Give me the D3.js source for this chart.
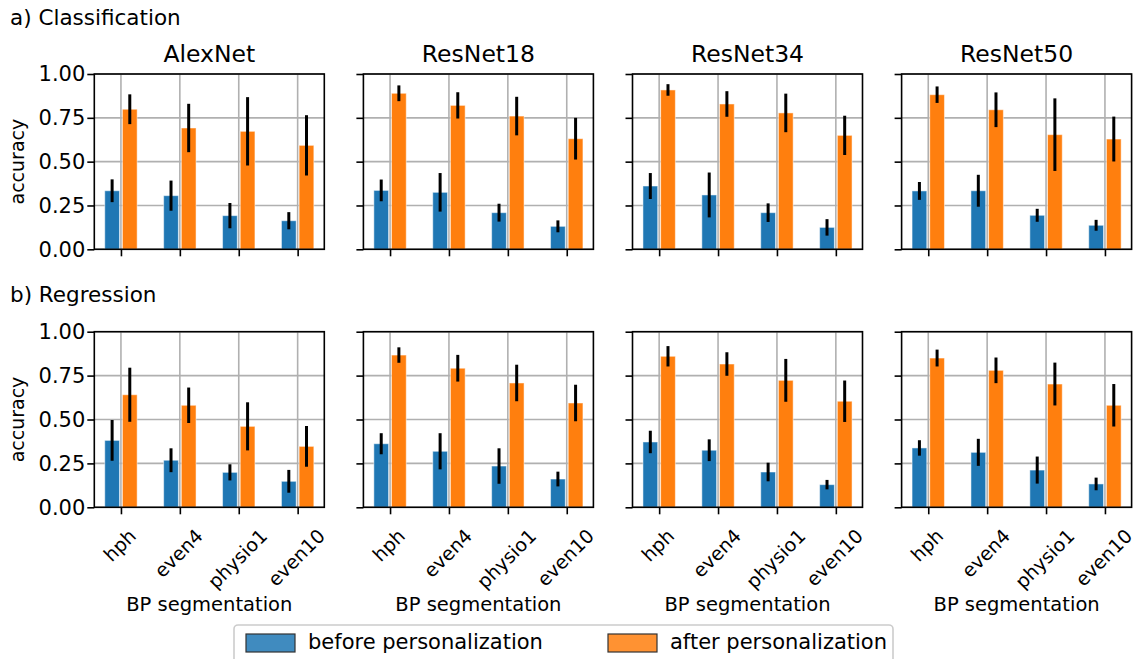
<!DOCTYPE html>
<html>
<head>
<meta charset="utf-8">
<script src="https://cdn.jsdelivr.net/npm/d3@7"></script>
<style>
  body { margin: 0; background: #fff; }
  svg { font-family: "DejaVu Sans", sans-serif; }
</style>
</head>
<body>
<script>
const width = 1137;
const height = 659;

// data
const models = ['AlexNet', 'ResNet18', 'ResNet34', 'ResNet50'];
const segments = ['hph', 'even4', 'physio1', 'even10'];
const yTicks = [0, 0.25, 0.5, 0.75, 1.0];
const seriesNames = ['before personalization', 'after personalization'];

// classification
const clsBefore    = [[0.334, 0.306, 0.192, 0.163], [0.336, 0.325, 0.209, 0.131], [0.361, 0.310, 0.209, 0.125], [0.333, 0.334, 0.194, 0.137]];
const clsBeforeErr = [[0.065, 0.086, 0.072, 0.049], [0.062, 0.110, 0.051, 0.034], [0.074, 0.128, 0.053, 0.047], [0.051, 0.091, 0.037, 0.031]];
const clsAfter     = [[0.799, 0.692, 0.673, 0.593], [0.890, 0.821, 0.760, 0.631], [0.909, 0.829, 0.778, 0.650], [0.882, 0.796, 0.654, 0.629]];
const clsAfterErr  = [[0.085, 0.138, 0.195, 0.172], [0.045, 0.075, 0.110, 0.119], [0.033, 0.073, 0.110, 0.112], [0.047, 0.099, 0.207, 0.128]];

// regression
const regBefore    = [[0.381, 0.268, 0.199, 0.148], [0.362, 0.319, 0.235, 0.161], [0.372, 0.325, 0.201, 0.129], [0.338, 0.313, 0.212, 0.133]];
const regBeforeErr = [[0.116, 0.068, 0.046, 0.065], [0.060, 0.103, 0.101, 0.042], [0.064, 0.062, 0.053, 0.027], [0.044, 0.077, 0.077, 0.036]];
const regAfter     = [[0.641, 0.581, 0.461, 0.347], [0.867, 0.792, 0.708, 0.594], [0.860, 0.816, 0.723, 0.604], [0.850, 0.780, 0.702, 0.581]];
const regAfterErr  = [[0.154, 0.101, 0.137, 0.116], [0.044, 0.076, 0.104, 0.104], [0.058, 0.067, 0.122, 0.118], [0.048, 0.073, 0.122, 0.121]];

const colors = ['#1f77b4', '#ff7f0e'];
const gridColor = '#b0b0b0';

const rows = [
  {label: 'a) Classification', labelY: 25, top: 74, bottom: 249.3, before: clsBefore, beforeErr: clsBeforeErr, after: clsAfter, afterErr: clsAfterErr, titles: true, xlabels: false},
  {label: 'b) Regression', labelY: 302, top: 331.7, bottom: 507.3, before: regBefore, beforeErr: regBeforeErr, after: regAfter, afterErr: regAfterErr, titles: false, xlabels: true}
];

const axLeft0 = 94.3, axStep = 269.1, axWidth = 230;
const barOffset = 0.15, barWidth = 0.25;

var svg = d3.select('body').append('svg')
    .attr('width', width)
    .attr('height', height);

svg.append('rect').attr('width', width).attr('height', height).attr('fill', '#fff');

rows.forEach(row => {
  svg.append('text')
      .text(row.label)
      .attr('x', 10)
      .attr('y', row.labelY)
      .attr('font-size', 21.5);

  const yScale = d3.scaleLinear().domain([0, 1]).range([row.bottom, row.top]);

  models.forEach((model, mi) => {
    const left = axLeft0 + mi * axStep;
    const xScale = d3.scaleLinear().domain([-0.4525, 3.4525]).range([left, left + axWidth]);
    const g = svg.append('g');

    // grid
    g.selectAll('.hgrid').data(yTicks).enter().append('line')
        .attr('x1', left).attr('x2', left + axWidth)
        .attr('y1', d => yScale(d)).attr('y2', d => yScale(d))
        .attr('stroke', gridColor).attr('stroke-width', 1.6);
    g.selectAll('.vgrid').data(segments).enter().append('line')
        .attr('x1', (d, i) => xScale(i)).attr('x2', (d, i) => xScale(i))
        .attr('y1', row.top).attr('y2', row.bottom)
        .attr('stroke', gridColor).attr('stroke-width', 1.6);

    // bars
    const series = [
      {vals: row.before[mi], errs: row.beforeErr[mi], off: -barOffset, color: colors[0]},
      {vals: row.after[mi], errs: row.afterErr[mi], off: barOffset, color: colors[1]}
    ];
    series.forEach(s => {
      const bw = xScale(barWidth) - xScale(0);
      g.selectAll(null).data(s.vals).enter().append('rect')
          .attr('x', (d, i) => xScale(i + s.off) - bw / 2)
          .attr('width', bw)
          .attr('y', d => yScale(d))
          .attr('height', d => yScale(0) - yScale(d))
          .attr('fill', s.color)
          .attr('stroke', '#fff').attr('stroke-opacity', 0.5).attr('stroke-width', 1);
      g.selectAll(null).data(s.vals).enter().append('line')
          .attr('x1', (d, i) => xScale(i + s.off)).attr('x2', (d, i) => xScale(i + s.off))
          .attr('y1', (d, i) => yScale(d + s.errs[i]))
          .attr('y2', (d, i) => yScale(d - s.errs[i]))
          .attr('stroke', '#000').attr('stroke-width', 3);
    });

    // axes
    const yAxis = d3.axisLeft(yScale).tickValues(yTicks).tickSize(7).tickPadding(2)
        .tickFormat(mi === 0 ? d3.format('.2f') : '');
    const ya = g.append('g').attr('transform', `translate(${left},0)`).call(yAxis);
    ya.select('.domain').remove();
    ya.selectAll('line').attr('stroke-width', 1.6);
    ya.selectAll('text').attr('font-size', 21).attr('font-family', '"DejaVu Sans", sans-serif').attr('fill', '#000');

    const xAxis = d3.axisBottom(xScale).tickValues([0, 1, 2, 3]).tickSize(7).tickFormat('');
    const xa = g.append('g').attr('transform', `translate(0,${row.bottom})`).call(xAxis);
    xa.select('.domain').remove();
    xa.selectAll('line').attr('stroke-width', 1.6);

    // frame
    g.append('rect')
        .attr('x', left).attr('y', row.top)
        .attr('width', axWidth).attr('height', row.bottom - row.top)
        .attr('fill', 'none').attr('stroke', '#000').attr('stroke-width', 1.6);

    if (row.titles) {
      g.append('text')
          .text(model)
          .attr('x', left + axWidth / 2)
          .attr('y', row.top - 12)
          .attr('text-anchor', 'middle')
          .attr('font-size', 23.5);
    }

    if (row.xlabels) {
      const fs = 19, asc = 0.76 * fs, desc = 0.24 * fs;
      segments.forEach((seg, i) => {
        const t = g.append('text').text(seg).attr('font-size', fs);
        const w = t.node().getComputedTextLength();
        const ax = xScale(i) + 0.7071 * (w + asc - desc) / 2;
        const ay = row.bottom + 30;
        t.attr('x', ax).attr('y', ay)
         .attr('text-anchor', 'end')
         .attr('transform', `rotate(-45, ${ax}, ${ay})`);
      });
      g.append('text')
          .text('BP segmentation')
          .attr('x', left + axWidth / 2)
          .attr('y', 611)
          .attr('text-anchor', 'middle')
          .attr('font-size', 19.5);
    }

    if (mi === 0) {
      const cy = (row.top + row.bottom) / 2;
      g.append('text')
          .text('accuracy')
          .attr('x', 24).attr('y', cy)
          .attr('text-anchor', 'middle')
          .attr('transform', `rotate(-90, 24, ${cy})`)
          .attr('font-size', 19);
    }
  });
});

// legend
const legend = svg.append('g');
legend.append('rect')
    .attr('x', 234).attr('y', 625)
    .attr('width', 659).attr('height', 50)
    .attr('rx', 4)
    .attr('fill', '#fff').attr('stroke', '#cccccc').attr('stroke-width', 1.6);
const legendX = [246, 608];
seriesNames.forEach((name, i) => {
  legend.append('rect')
      .attr('x', legendX[i]).attr('y', 634)
      .attr('width', 49).attr('height', 18)
      .attr('fill', colors[i]).attr('fill-opacity', 0.85)
      .attr('stroke', '#333').attr('stroke-width', 1.2);
  legend.append('text')
      .text(name)
      .attr('x', legendX[i] + 62).attr('y', 649)
      .attr('font-size', 21);
});
</script>
</body>
</html>
